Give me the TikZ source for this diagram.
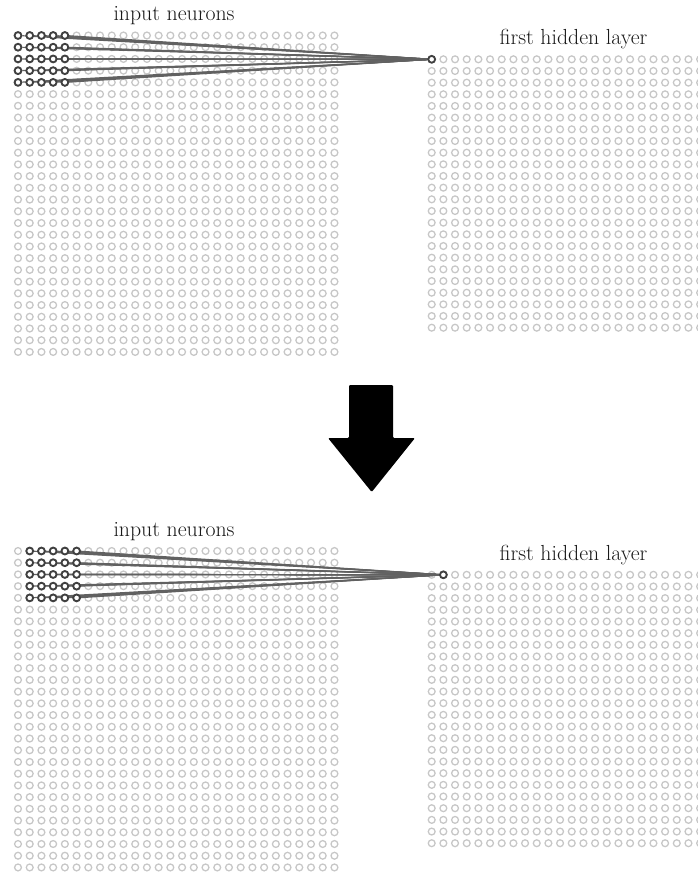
\documentclass[tikz,border=0pt]{standalone}
\pgfdeclarelayer{bg}
\pgfdeclarelayer{links}
\pgfsetlayers{bg,links,main}
\tikzset{
  neuron/.style={circle, draw=black!22, line width=1.1pt, inner sep=0pt, minimum size=0.205cm},
  active/.style={circle, draw=black!75, fill=white, line width=1.6pt, inner sep=0pt, minimum size=0.205cm},
  link/.style={draw=black!62, line width=1pt},
  layerlabel/.style={font=\fontsize{18.6}{20}\selectfont, text=black!90, anchor=base}
}
\begin{document}
\begin{tikzpicture}[x=0.03cm, y=-0.03cm]
\useasboundingbox (0,0) rectangle (697,873);
\clip (0,0) rectangle (697,873);
% two panels, the window moved by one column in the second
\foreach \p/\oy in {0/0, 1/515.5} {
  \begin{pgfonlayer}{bg}
  \foreach \r in {0,...,27} \foreach \c in {0,...,27}
    \node[neuron] (in\p-\r-\c) at (18+11.72*\c, 35.5+\oy+11.72*\r) {};
  \foreach \r in {0,...,23} \foreach \c in {0,...,23}
    \node[neuron] (hid\p-\r-\c) at (431.7+11.67*\c, 59.3+\oy+11.67*\r) {};
  \end{pgfonlayer}
  % local receptive field
  \foreach \r in {0,...,4} \foreach \c in {0,...,4} {
    \pgfmathtruncatemacro\cc{\c+\p}
    \node[active] (win\p-\r-\c) at (in\p-\r-\cc) {};
  }
  \node[active] (out\p) at (hid\p-0-\p) {};
  \begin{pgfonlayer}{links}
  \foreach \r in {0,...,4} \foreach \c in {0,...,4}
    \draw[link] (win\p-\r-\c) -- (out\p);
  \end{pgfonlayer}
  \node[layerlabel] (inlabel\p) at (174, 21+\oy) {input neurons};
  \node[layerlabel] (hidlabel\p) at (573.5, 45+\oy) {first hidden layer};
}
% big arrow between the panels
\fill[rounded corners=1pt] (349,385) -- (393,385) -- (393,438) -- (415,438) -- (371.7,492) -- (328,438) -- (349,438) -- cycle;
\end{tikzpicture}
\end{document}
